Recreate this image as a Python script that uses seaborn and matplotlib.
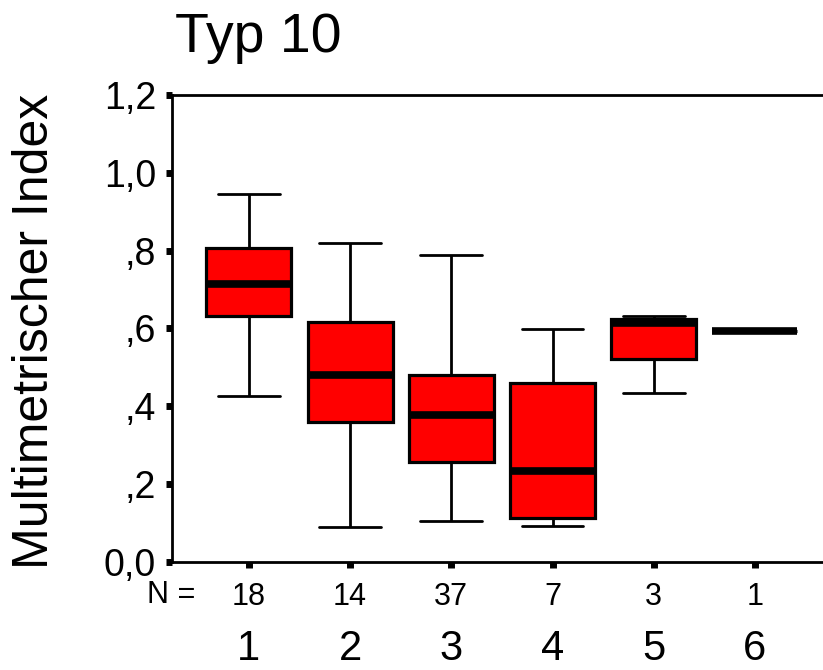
import numpy as np
import pandas as pd
import seaborn as sns
import matplotlib
matplotlib.use("Agg")
import matplotlib.pyplot as plt
from matplotlib.ticker import FuncFormatter

# values (Typ 10)
groups = ["1", "2", "3", "4", "5", "6"]
n_values = [18, 14, 37, 7, 3, 1]
whisker_low = [0.427, 0.089, 0.105, 0.093, 0.435, 0.593]
q1 = [0.631, 0.359, 0.257, 0.112, 0.520, 0.593]
median = [0.713, 0.479, 0.377, 0.232, 0.613, 0.593]
q3 = [0.806, 0.616, 0.479, 0.459, 0.625, 0.593]
whisker_high = [0.945, 0.820, 0.788, 0.599, 0.631, 0.593]

# five values per group -> quartiles come out exactly, whiskers = min/max
rows = []
for i, g in enumerate(groups):
    for v in (whisker_low[i], q1[i], median[i], q3[i], whisker_high[i]):
        rows.append({"Gruppe": g, "Index": v})
df = pd.DataFrame(rows)

sns.set_style("ticks")
plt.rcParams["font.family"] = ["Liberation Sans", "DejaVu Sans"]
plt.rcParams["text.color"] = "black"
plt.rcParams["xtick.color"] = "black"
plt.rcParams["ytick.color"] = "black"
plt.rcParams["axes.labelcolor"] = "black"
plt.rcParams["axes.edgecolor"] = "black"

fig = plt.figure(figsize=(8.23, 6.7), dpi=100)
ax = fig.add_axes([172 / 823, 1 - 561.7 / 670, 1 - 172 / 823, (561.7 - 95) / 670])

sns.boxplot(data=df, x="Gruppe", y="Index", order=groups, ax=ax,
            color="#ff0000", linecolor="black", linewidth=2.3,
            width=0.84, whis=(0, 100), saturation=1,
            capwidths=0.61,
            medianprops={"linewidth": 5.5, "solid_capstyle": "butt"},
            whiskerprops={"linewidth": 2},
            capprops={"linewidth": 2})

ax.set_ylim(0, 1.2)
ax.set_xlim(-0.76, 5.673)
ax.set_yticks([0, 0.2, 0.4, 0.6, 0.8, 1.0, 1.2])


def german_fmt(v, pos):
    s = f"{v:.1f}".replace(".", ",")
    if s.startswith("0,") and v > 0:
        s = s[1:]
    return s


ax.yaxis.set_major_formatter(FuncFormatter(german_fmt))
ax.set_xticks(range(len(groups)))
ax.set_xticklabels([str(n) for n in n_values])
ax.tick_params(axis="y", labelsize=27, width=5, length=4.5, pad=7,
               direction="out", colors="black")
ax.tick_params(axis="x", labelsize=22, width=5, length=4.5, pad=10,
               direction="out", colors="black")
ax.set_xlabel("")
ax.set_ylabel("")

for side in ["left", "bottom", "top"]:
    ax.spines[side].set_linewidth(2)
    ax.spines[side].set_color("black")
ax.spines["right"].set_visible(False)

# group numbers under the N row
for i, g in enumerate(groups):
    ax.text(i, -0.21, g, transform=ax.get_xaxis_transform(),
            ha="center", va="baseline", fontsize=30, color="black")

fig.text(195 / 823, 1 - 603 / 670, "N =", ha="right", va="baseline",
         fontsize=22, color="black")
fig.text(175 / 823, 1 - 52 / 670, "Typ 10", ha="left", va="baseline",
         fontsize=40, color="black")
fig.text(35 / 823, 1 - 331.5 / 670, "Multimetrischer Index", rotation=90,
         ha="center", va="center", fontsize=36, color="black")

fig.savefig("out.png", dpi=100)
